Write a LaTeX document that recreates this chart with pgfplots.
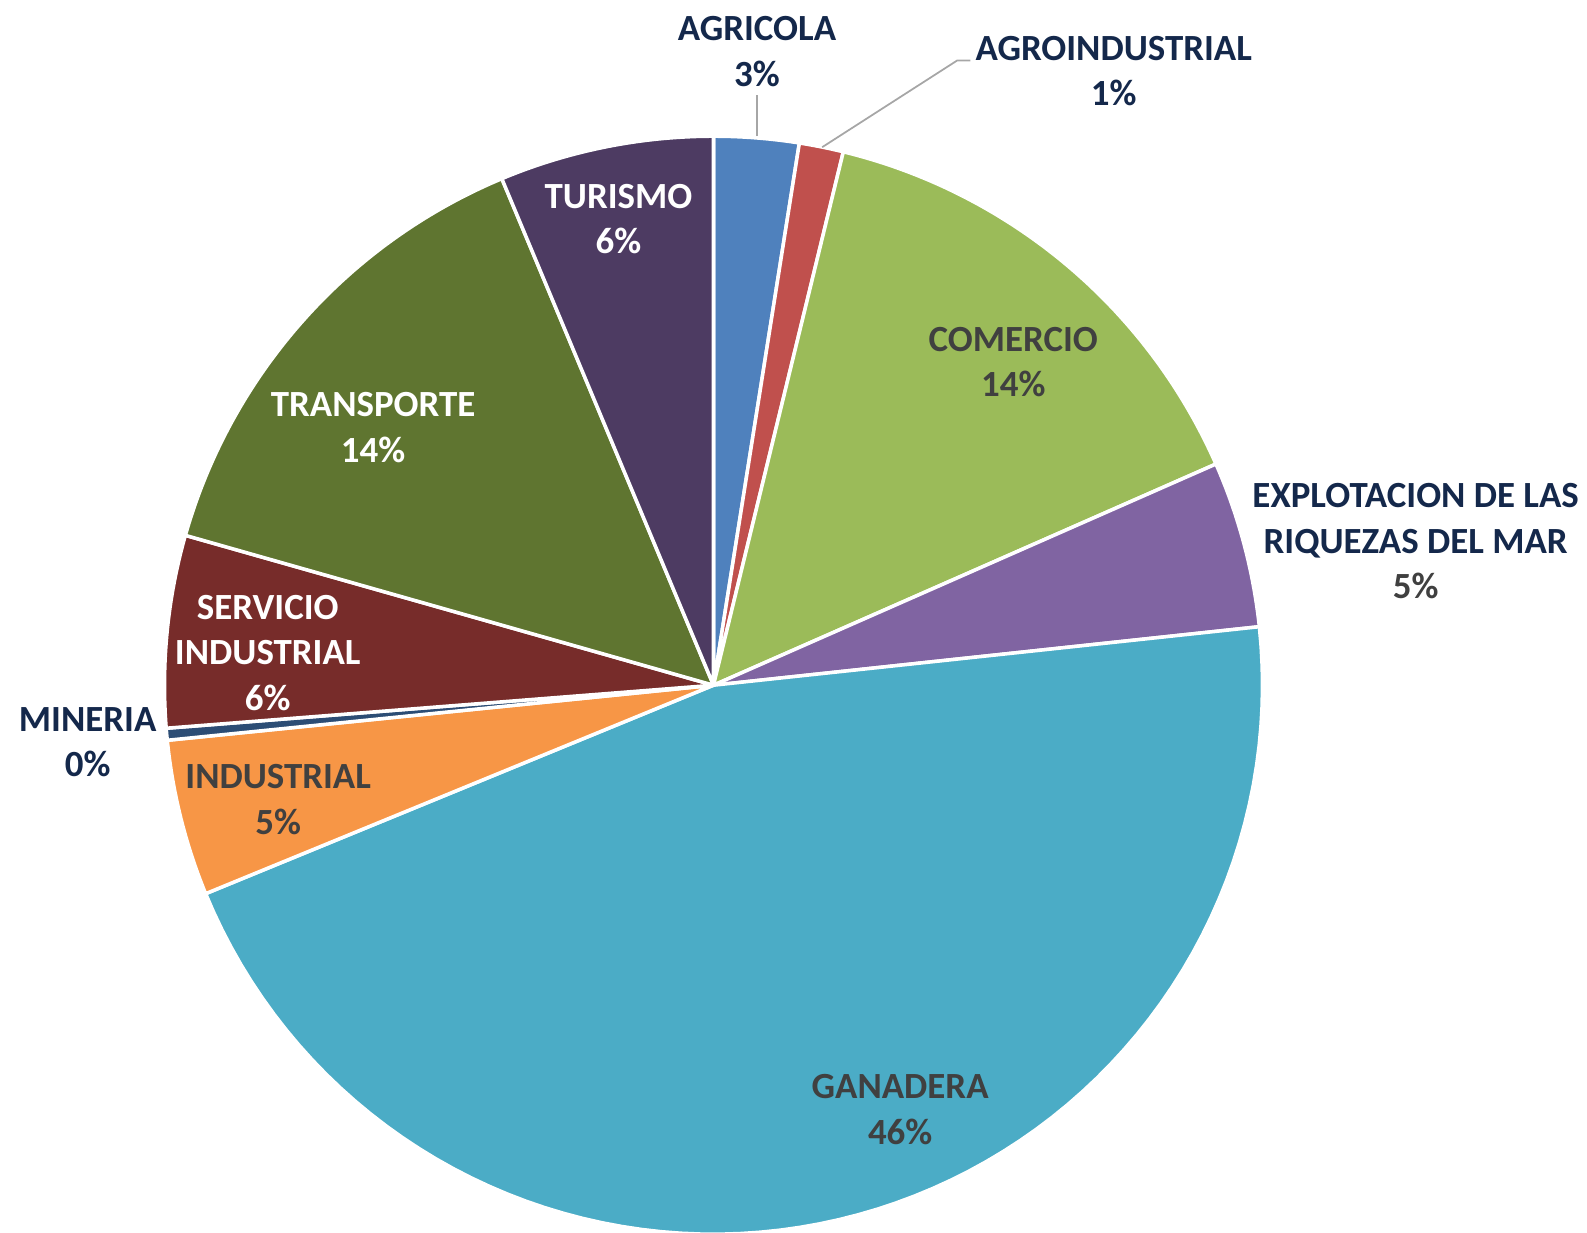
\documentclass[border=0pt]{standalone}
\usepackage{pgfplots}
\pgfplotsset{compat=1.18}
\usepackage{pgfplotstable}
\usepackage{fontspec}
\setmainfont{Carlito}

\definecolor{slice0}{HTML}{4F81BD}
\definecolor{slice1}{HTML}{C0504D}
\definecolor{slice2}{HTML}{9BBB59}
\definecolor{slice3}{HTML}{8064A2}
\definecolor{slice4}{HTML}{4BACC6}
\definecolor{slice5}{HTML}{F79646}
\definecolor{slice6}{HTML}{2C4D75}
\definecolor{slice7}{HTML}{772C2A}
\definecolor{slice8}{HTML}{5F7530}
\definecolor{slice9}{HTML}{4D3B62}
\definecolor{navy}{HTML}{14284B}
\definecolor{dgray}{HTML}{404040}

% share of each sector, in percent, clockwise from the top
\pgfplotstableread[col sep=comma]{
name,value
AGRICOLA,2.5
AGROINDUSTRIAL,1.3
COMERCIO,14.6
EXPLOTACION DE LAS RIQUEZAS DEL MAR,4.9
GANADERA,45.5
INDUSTRIAL,4.6
MINERIA,0.35
SERVICIO INDUSTRIAL,5.65
TRANSPORTE,14.3
TURISMO,6.3
}\piedata

\begin{document}
\begin{tikzpicture}[every node/.style={font=\fontsize{10.5}{12.9}\selectfont\bfseries, align=center}]
\useasboundingbox (-7.135,-5.468) rectangle (8.735,6.852);
\clip (-7.135,-5.468) rectangle (8.735,6.852);
\begin{axis}[
  x=5.49cm, y=5.49cm,
  anchor=origin, at={(0,0)},
  hide axis, clip=false,
  xmin=-1.3, xmax=1.6, ymin=-1.1, ymax=1.25,
]
\pgfmathsetmacro{\cum}{0}
\pgfplotsforeachungrouped \i in {0,...,9} {
  \pgfplotstablegetelem{\i}{value}\of\piedata
  \pgfmathsetmacro{\a}{90-3.6*(\cum+\pgfplotsretval)}
  \pgfmathsetmacro{\b}{90-3.6*\cum}
  \pgfmathsetmacro{\cum}{\cum+\pgfplotsretval}
  \edef\temp{\noexpand\addplot[fill=slice\i, draw=white, line width=1pt, line join=round, domain=\a:\b, samples=80] ({cos(x)},{sin(x)}) -- (axis cs:0,0) -- cycle;}
  \temp
}
% leader lines
\draw[gray!70, line width=0.5pt] (axis cs:0.0793,1.0) -- (axis cs:0.0793,1.075);
\draw[gray!70, line width=0.5pt] (axis cs:0.198,0.98) -- (axis cs:0.444,1.138) -- (axis cs:0.468,1.138);

\node[text=navy] at (axis cs:0.0793,1.154) {AGRICOLA\\3\%};
\node[text=navy] at (axis cs:0.729,1.119) {AGROINDUSTRIAL\\1\%};
\node[text=dgray] at (axis cs:0.546,0.589) {COMERCIO\\14\%};
\node at (axis cs:1.279,0.262) {\textcolor{navy}{EXPLOTACION DE LAS}\\\textcolor{navy}{RIQUEZAS DEL MAR}\\\textcolor{dgray}{5\%}};
\node[text=dgray] at (axis cs:0.340,-0.773) {GANADERA\\46\%};
\node[text=dgray] at (axis cs:-0.793,-0.2085) {INDUSTRIAL\\5\%};
\node[text=navy] at (axis cs:-1.140,-0.1034) {MINERIA\\0\%};
\node[text=white] at (axis cs:-0.812,0.059) {SERVICIO\\INDUSTRIAL\\6\%};
\node[text=white] at (axis cs:-0.620,0.469) {TRANSPORTE\\14\%};
\node[text=white] at (axis cs:-0.173,0.849) {TURISMO\\6\%};
\end{axis}
\end{tikzpicture}
\end{document}
